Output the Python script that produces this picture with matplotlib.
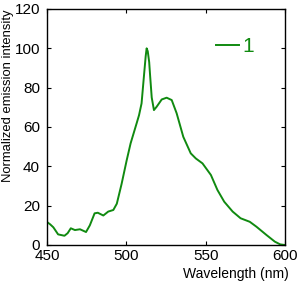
import matplotlib.pyplot as plt

plt.rcParams['font.family'] = ['Liberation Sans', 'DejaVu Sans']

wavelength = [450, 452, 454, 457, 461, 463, 465, 467.6, 470.8, 474.6, 477, 480, 482,
              485.5, 488.6, 491.8, 494, 497, 500.2, 502.7, 506.5, 508, 509.6, 511,
              512.2, 512.8, 513.5, 514.4, 515, 516, 517.4, 519.1, 522.3, 525.4,
              528.6, 531.7, 535.9, 540.6, 543.8, 548, 553.3, 557.4, 561.7, 567,
              572, 577.8, 582, 588.3, 593.6, 597, 600]
intensity = [11.7, 10.5, 9, 5.4, 4.7, 6, 8.5, 7.6, 8, 6.6, 10, 16.1, 16.4,
             15, 17, 17.8, 21, 31, 43, 51.7, 61.9, 66, 72, 85,
             96, 100, 98.5, 93, 86, 75, 68.6, 70.3, 74, 74.9,
             73.7, 67, 55, 46.6, 44, 41.5, 35.6, 28, 22, 17,
             13.6, 11.8, 9.3, 5.1, 1.7, 0.3, 0]

fig = plt.figure(figsize=(2.98, 2.83), dpi=100)
ax = fig.add_axes([47/298, 1 - 245/283, 238/298, 236/283])
ax.plot(wavelength, intensity, color='#108a10', lw=1.4, label='1')

ax.set_xlim(450, 600)
ax.set_ylim(0, 120)
ax.set_xticks([450, 500, 550, 600])
ax.set_yticks([0, 20, 40, 60, 80, 100, 120])
ax.tick_params(direction='in', top=True, right=True, labelsize=11, length=3, width=0.8)
ax.tick_params(axis='x', pad=3)
ax.tick_params(axis='y', pad=5)
for s in ax.spines.values():
    s.set_linewidth(1.0)

ax.set_xlabel('Wavelength (nm)', fontsize=10)
ax.xaxis.set_label_coords(1.017, -0.093)
ax.xaxis.label.set_ha('right')
ax.set_ylabel('Normalized emission intensity', fontsize=9.4)
ax.yaxis.set_label_coords(-0.165, 1.0)
ax.yaxis.label.set_va('center')
ax.yaxis.label.set_ha('right')

leg = ax.legend(loc='center left', frameon=False, fontsize=15, handlelength=1.1,
                handletextpad=0.15, borderpad=0, borderaxespad=0,
                bbox_to_anchor=(216/298, 1 - 47/283), bbox_transform=fig.transFigure)
for t in leg.get_texts():
    t.set_color('#108a10')

fig.savefig('out.png', dpi=100)
